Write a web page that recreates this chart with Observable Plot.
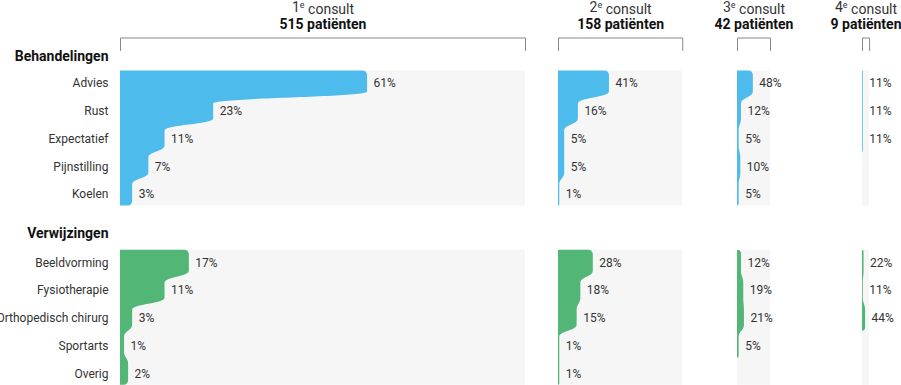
<!DOCTYPE html>
<html><head><meta charset="utf-8">
<script src="https://cdn.jsdelivr.net/npm/d3@7"></script>
<script src="https://cdn.jsdelivr.net/npm/@observablehq/plot@0.6"></script>
<style>
html,body{margin:0;padding:0;background:#fff;overflow:hidden}
#chart{width:901px;height:385px}
</style>
</head><body><div id="chart"></div><script>
// ---------- data ----------
const consultNumbers = ["1", "2", "3", "4"];
const patients = [515, 158, 42, 9];
const sectionNames = ["Behandelingen", "Verwijzingen"];
const behandelingen = ["Advies", "Rust", "Expectatief", "Pijnstilling", "Koelen"];
const verwijzingen = ["Beeldvorming", "Fysiotherapie", "Orthopedisch chirurg", "Sportarts", "Overig"];
// percentage per consult (rows follow the category order above)
const behandelingenPct = [
  [61, 23, 11, 7, 3],
  [41, 16, 5, 5, 1],
  [48, 12, 5, 10, 5],
  [11, 11, 11, null, null]
];
const verwijzingenPct = [
  [17, 11, 3, 1, 2],
  [28, 18, 15, 1, 1],
  [12, 19, 21, 5, null],
  [22, 11, 44, null, null]
];
const sectionColors = ["#4dbbeb", "#52b677"];

// ---------- layout ----------
const W = 901, H = 385;
const pxPerPatient = 405 / 515;
const plotLeft = 120;
const panelLeftPx = [120, 558, 737, 862];
const rowPx = 27;
const firstRowTopPx = 70.5;
const sectionTopPx = [70.5, 249.7];
const sectionHeadPx = [56, 233];
const labelFirstPx = 12.6, labelStepPx = 27.75;
const toX = px => (px - plotLeft) / pxPerPatient;      // px -> patient units
const toY = px => (px - firstRowTopPx) / rowPx;          // px -> row units
const panelStart = panelLeftPx.map(toX);
const sectionTop = sectionTopPx.map(toY);

const sections = [
  {name: sectionNames[0], cats: behandelingen, pct: behandelingenPct, color: sectionColors[0]},
  {name: sectionNames[1], cats: verwijzingen, pct: verwijzingenPct, color: sectionColors[1]}
];

const labelY = (si, i) => toY(sectionTopPx[si] + labelFirstPx + labelStepPx * i);

const bgs = [], shapes = [], valueLabels = [], catLabels = [], heads = [];
sections.forEach((s, si) => {
  heads.push({x: 0, y: toY(sectionHeadPx[si]), text: s.name});
  s.cats.forEach((c, i) => catLabels.push({x: 0, y: labelY(si, i), text: c}));
  patients.forEach((n, p) => {
    bgs.push({x1: panelStart[p], x2: panelStart[p] + n, y1: sectionTop[si], y2: sectionTop[si] + s.cats.length});
    s.pct[p].forEach((v, i) => {
      if (v == null) return;
      const x2 = panelStart[p] + v / 100 * n;
      const key = si + "-" + p;
      shapes.push({key, x1: panelStart[p], x2, y: sectionTop[si] + i, color: s.color});
      shapes.push({key, x1: panelStart[p], x2, y: sectionTop[si] + i + 1, color: s.color});
      valueLabels.push({x: x2, y: labelY(si, i), text: v + "%"});
    });
  });
});

const brackets = [], consultLabels = [], patientLabels = [];
patients.forEach((n, p) => {
  const a = panelStart[p], b = panelStart[p] + n;
  const yTop = toY(37.5), yBot = toY(50);
  [[a, yBot], [a, yTop], [b, yTop], [b, yBot]].forEach(([x, y]) => brackets.push({k: p, x, y}));
  consultLabels.push({x: a + n / 2, y: toY(7), text: consultNumbers[p] + "e consult"});
  patientLabels.push({x: a + n / 2, y: toY(24), text: n + " patiënten"});
});

// rounded step curve: bars per row joined by smooth S-transitions
function roundStep(context) {
  let line, top, base;
  const R = 4.5, HT = 6;
  function draw() {
    const n = top.length / 2;
    const bx = base[0][0];
    const xs = [], y0 = [], y1 = [];
    for (let i = 0; i < n; i++) { xs.push(top[2 * i][0]); y0.push(top[2 * i][1]); y1.push(top[2 * i + 1][1]); }
    const c = context;
    c.moveTo(bx, y0[0]);
    let r = Math.max(0, Math.min(R, xs[0] - bx, (y1[0] - y0[0]) / 2));
    if (r > 0.2) { c.lineTo(xs[0] - r, y0[0]); c.arcTo(xs[0], y0[0], xs[0], y0[0] + r, r); }
    else c.lineTo(xs[0], y0[0]);
    for (let i = 0; i < n - 1; i++) {
      const yb = y1[i];
      const h = Math.min(HT, (y1[i] - y0[i]) / 3);
      c.lineTo(xs[i], yb - h);
      c.bezierCurveTo(xs[i], yb, xs[i + 1], yb, xs[i + 1], yb + h);
    }
    const xl = xs[n - 1], yl = y1[n - 1];
    r = Math.max(0, Math.min(R, xl - bx, (y1[n - 1] - y0[n - 1]) / 2));
    if (r > 0.2) { c.lineTo(xl, yl - r); c.arcTo(xl, yl, xl - r, yl, r); }
    else c.lineTo(xl, yl);
    c.lineTo(bx, yl);
    c.closePath();
  }
  return {
    areaStart() { line = 0; },
    areaEnd() { line = NaN; },
    lineStart() { if (line === 0) top = []; else base = []; },
    point(x, y) { (line === 0 ? top : base).push([+x, +y]); },
    lineEnd() { if (line === 1) draw(); line = 1 - line; }
  };
}

const chart = Plot.plot({
  width: W, height: H,
  marginTop: 0, marginRight: 0, marginBottom: 0, marginLeft: 0,
  x: {domain: [toX(0), toX(W)], range: [0, W], axis: null},
  y: {domain: [toY(0), toY(H)], range: [0, H], axis: null},
  style: {fontFamily: "Roboto, 'DejaVu Sans', sans-serif", fontSize: "12px", background: "#fff", overflow: "visible"},
  marks: [
    Plot.rect(bgs, {x1: "x1", x2: "x2", y1: "y1", y2: "y2", fill: "#f6f6f6"}),
    Plot.areaX(shapes, {x1: "x1", x2: "x2", y: "y", z: "key", fill: "color", curve: roundStep}),
    Plot.text(valueLabels, {x: "x", y: "y", text: "text", dx: 6, textAnchor: "start", fill: "#333", fontSize: 12}),
    Plot.text(catLabels, {x: "x", y: "y", text: "text", dx: -12, textAnchor: "end", fill: "#333", fontSize: 12}),
    Plot.text(heads, {x: "x", y: "y", text: "text", dx: -12, textAnchor: "end", fill: "#111", fontSize: 14, fontWeight: "bold"}),
    Plot.line(brackets, {x: "x", y: "y", z: "k", stroke: "#888", strokeWidth: 1}),
    Plot.text(consultLabels, {x: "x", y: "y", text: "text", fill: "#333", fontSize: 14}),
    Plot.text(patientLabels, {x: "x", y: "y", text: "text", fill: "#111", fontSize: 14, fontWeight: "bold"})
  ]
});
document.getElementById("chart").appendChild(chart);

// superscript "e" in the consult headers
d3.select(chart).selectAll("text").each(function () {
  const t = this.textContent;
  const m = /^(\d)e consult$/.exec(t);
  if (!m) return;
  const el = d3.select(this);
  el.text(null);
  el.append("tspan").text(m[1]);
  el.append("tspan").attr("dy", "-0.45em").attr("font-size", "9").text("e");
  el.append("tspan").attr("dy", "0.45em").text(" consult");
});
</script></body></html>
